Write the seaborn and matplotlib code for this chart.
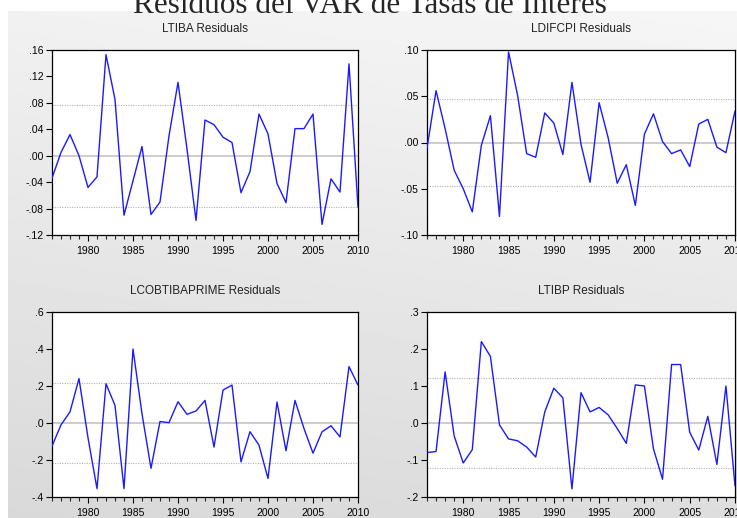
import numpy as np
import pandas as pd
import matplotlib
matplotlib.use("Agg")
import matplotlib.pyplot as plt
import matplotlib.ticker as mticker
import seaborn as sns

sns.set_style("white")
plt.rcParams["font.family"] = ["Liberation Sans", "DejaVu Sans"]

years = list(range(1976, 2011))

ltiba = [-0.034, 0.005, 0.032, 0.000, -0.048, -0.032, 0.153, 0.085, -0.090, -0.038,
         0.014, -0.089, -0.070, 0.030, 0.111, 0.010, -0.098, 0.054, 0.047, 0.028,
         0.020, -0.056, -0.024, 0.063, 0.033, -0.042, -0.071, 0.041, 0.041, 0.063,
         -0.104, -0.035, -0.055, 0.139, -0.078]

ldifcpi = [-0.006, 0.056, 0.015, -0.030, -0.050, -0.075, -0.003, 0.029, -0.080, 0.098,
           0.051, -0.012, -0.016, 0.032, 0.021, -0.013, 0.065, -0.002, -0.043, 0.043,
           0.005, -0.044, -0.024, -0.068, 0.009, 0.031, 0.001, -0.012, -0.008, -0.026,
           0.020, 0.025, -0.005, -0.011, 0.034]

lcobtibaprime = [-0.125, -0.010, 0.060, 0.240, -0.080, -0.355, 0.212, 0.095, -0.355, 0.400,
                 0.050, -0.245, 0.008, 0.002, 0.115, 0.047, 0.065, 0.122, -0.130, 0.178,
                 0.205, -0.210, -0.047, -0.120, -0.300, 0.113, -0.150, 0.122, -0.030, -0.163,
                 -0.048, -0.015, -0.075, 0.305, 0.205]

ltibp = [-0.080, -0.077, 0.138, -0.035, -0.108, -0.072, 0.220, 0.180, -0.005, -0.043,
         -0.048, -0.065, -0.092, 0.030, 0.094, 0.068, -0.178, 0.082, 0.030, 0.042,
         0.022, -0.015, -0.055, 0.103, 0.100, -0.070, -0.152, 0.158, 0.158, -0.025,
         -0.073, 0.018, -0.112, 0.100, -0.170]

titles = ["LTIBA Residuals", "LDIFCPI Residuals", "LCOBTIBAPRIME Residuals", "LTIBP Residuals"]
series = [ltiba, ldifcpi, lcobtibaprime, ltibp]
bands = [0.077, 0.047, 0.215, 0.122]
yticks = [
    [-0.12, -0.08, -0.04, 0.00, 0.04, 0.08, 0.12, 0.16],
    [-0.10, -0.05, 0.00, 0.05, 0.10],
    [-0.4, -0.2, 0.0, 0.2, 0.4, 0.6],
    [-0.2, -0.1, 0.0, 0.1, 0.2, 0.3],
]
decimals = [2, 2, 1, 1]
xtick_labels = [1980, 1985, 1990, 1995, 2000, 2005, 2010]
main_title = "Residuos del VAR de Tasas de Interés"

W, H = 737, 518
fig = plt.figure(figsize=(W / 100, H / 100), dpi=100)

# background gradient panel
top, bot = 11, 518
bg = fig.add_axes([8 / W, 1 - bot / H, (W - 8) / W, (bot - top) / H], zorder=-5)
gy = np.linspace(0.965, 0.87, 200).reshape(-1, 1)
gx = np.linspace(-0.02, 0.0, 200).reshape(1, -1)
grad = gy + gx
bg.imshow(grad, aspect="auto", cmap="gray", vmin=0, vmax=1, extent=[0, 1, 0, 1])
bg.axis("off")

fig.text(370 / W, 1 - 13 / H, main_title, ha="center", va="baseline",
         fontsize=22.5, family=["Liberation Serif", "DejaVu Serif"], zorder=10)

positions = [
    (52, 50, 358, 235),
    (427, 50, 735, 235),
    (52, 312, 358, 497),
    (427, 312, 735, 497),
]


def make_fmt(dec):
    def f(v, pos):
        s = f"{v:.{dec}f}"
        if s.startswith("-0"):
            s = "-" + s[2:]
        elif s.startswith("0"):
            s = s[1:]
        if s.startswith("-") and float(s) == 0:
            s = s[1:]
        return s
    return f


for i, (l, t, r, b) in enumerate(positions):
    ax = fig.add_axes([l / W, 1 - b / H, (r - l) / W, (b - t) / H])
    ax.set_facecolor("white")
    df = pd.DataFrame({"year": years, "resid": series[i]})
    ax.axhline(0, color="#c4c4c4", lw=1.2, zorder=1)
    ax.axhline(bands[i], color="#b4b4b4", lw=0.8, ls=(0, (1, 1.2)), zorder=1)
    ax.axhline(-bands[i], color="#b4b4b4", lw=0.8, ls=(0, (1, 1.2)), zorder=1)
    sns.lineplot(data=df, x="year", y="resid", ax=ax, color="#1a1aff", lw=1.0, zorder=3)
    ax.set_xlim(years[0], years[-1])
    ax.set_ylim(yticks[i][0], yticks[i][-1])
    ax.set_yticks(yticks[i])
    ax.yaxis.set_major_formatter(mticker.FuncFormatter(make_fmt(decimals[i])))
    ax.set_xticks(xtick_labels)
    ax.set_xticks(years, minor=True)
    ax.set_xlabel("")
    ax.set_ylabel("")
    ax.set_title(titles[i], fontsize=8.5, pad=13, color="#222222")
    ax.tick_params(axis="both", which="major", direction="out", length=4, width=0.8,
                   labelsize=7.5, pad=2, colors="black", bottom=True, left=True)
    ax.tick_params(axis="x", which="minor", direction="out", length=3, width=0.8, bottom=True)
    ax.tick_params(axis="x", which="major", pad=4)
    for sp in ax.spines.values():
        sp.set_visible(True)
        sp.set_color("black")
        sp.set_linewidth(0.9)

fig.savefig("out.png", dpi=100)
